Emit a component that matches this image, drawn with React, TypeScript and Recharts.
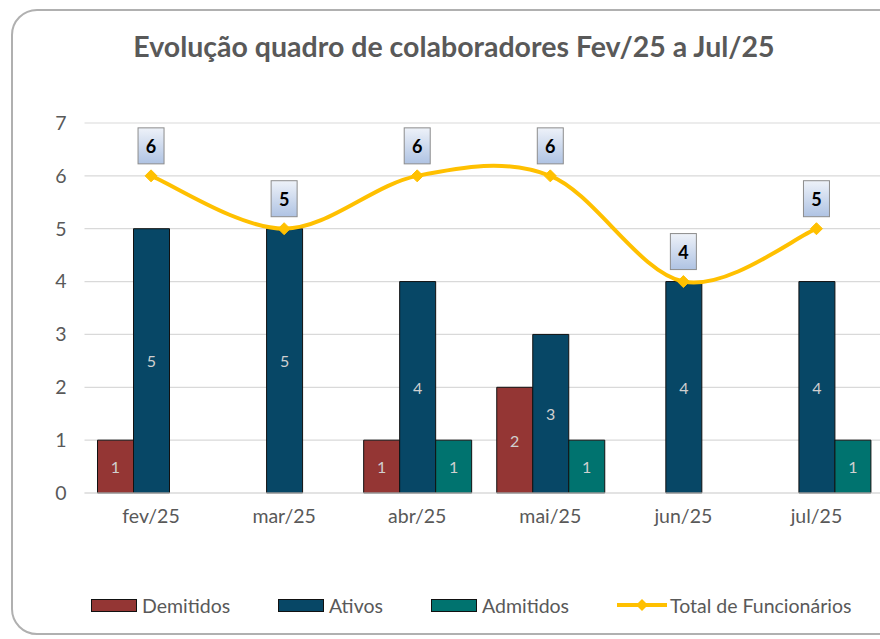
import React from "react";
import { ComposedChart, Bar, Line, XAxis, YAxis, CartesianGrid, LabelList } from "recharts";

const categories = ["fev/25", "mar/25", "abr/25", "mai/25", "jun/25", "jul/25"];
const demitidos = [1, null, 1, 2, null, null];
const ativos = [5, 5, 4, 3, 4, 4];
const admitidos = [null, null, 1, 1, null, 1];
const totalFuncionarios = [6, 5, 6, 6, 4, 5];
const yTicks = [0, 1, 2, 3, 4, 5, 6, 7];

const data = categories.map((c, i) => ({
  name: c,
  Demitidos: demitidos[i],
  Ativos: ativos[i],
  Admitidos: admitidos[i],
  Total: totalFuncionarios[i],
}));

const FONT = "Lato, 'Open Sans', sans-serif";
const GREY = "#595959";
const C_DEM = "#943634";
const C_ATI = "#074766";
const C_ADM = "#00736F";
const C_TOT = "#FFC000";

// Excel-like smooth line (Catmull-Rom as cubic Bezier)
const excelSmooth: any = (context: any) => {
  let pts: number[][] = [];
  return {
    areaStart() {},
    areaEnd() {},
    lineStart() {
      pts = [];
    },
    point(x: number, y: number) {
      pts.push([+x, +y]);
    },
    lineEnd() {
      if (!pts.length) return;
      context.moveTo(pts[0][0], pts[0][1]);
      for (let i = 0; i < pts.length - 1; i++) {
        const p0 = pts[i - 1] || pts[i];
        const p1 = pts[i];
        const p2 = pts[i + 1];
        const p3 = pts[i + 2] || p2;
        context.bezierCurveTo(
          p1[0] + (p2[0] - p0[0]) / 6,
          p1[1] + (p2[1] - p0[1]) / 6,
          p2[0] - (p3[0] - p1[0]) / 6,
          p2[1] - (p3[1] - p1[1]) / 6,
          p2[0],
          p2[1]
        );
      }
    },
  };
};

const Diamond = (props: any) => {
  const { cx, cy } = props;
  if (cx == null || cy == null) return null;
  const r = 6;
  return (
    <polygon
      points={`${cx},${cy - r} ${cx + r},${cy} ${cx},${cy + r} ${cx - r},${cy}`}
      fill={C_TOT}
      stroke={C_TOT}
    />
  );
};

const BoxLabel = (props: any) => {
  const { x, y, value } = props;
  if (value == null) return null;
  const w = 26;
  const h = 36;
  return (
    <g>
      <rect x={x - w / 2} y={y - 48} width={w} height={h} fill="url(#boxGrad)" stroke="#8c8c8c" strokeWidth={1} />
      <text
        x={x}
        y={y - 30}
        textAnchor="middle"
        dominantBaseline="central"
        fontFamily={FONT}
        fontWeight={700}
        fontSize={18}
        fill="#000"
      >
        {value}
      </text>
    </g>
  );
};

const barLabel = (props: any) => {
  const { x, y, width, height, value } = props;
  if (value == null) return null;
  return (
    <text
      x={x + width / 2}
      y={y + height / 2}
      textAnchor="middle"
      dominantBaseline="central"
      fontFamily={FONT}
      fontSize={16}
      fill="#d0d0d0"
    >
      {value}
    </text>
  );
};

const legendItems = [
  { label: "Demitidos", color: C_DEM, type: "bar", left: 91 },
  { label: "Ativos", color: C_ATI, type: "bar", left: 278 },
  { label: "Admitidos", color: C_ADM, type: "bar", left: 431 },
  { label: "Total de Funcionários", color: C_TOT, type: "line", left: 617 },
];

export default function App() {
  return (
    <div style={{ position: "absolute", left: 0, top: 0, width: 880, height: 639, overflow: "hidden", background: "#fff" }}>
      <div
        style={{
          position: "absolute",
          left: 11,
          top: 9,
          width: 920,
          height: 626,
          border: "2px solid #b0b0b0",
          borderRadius: 26,
          boxSizing: "border-box",
        }}
      />
      <div
        style={{
          position: "absolute",
          left: 0,
          width: 908,
          top: 28,
          textAlign: "center",
          fontFamily: FONT,
          fontWeight: 700,
          fontSize: 28.5,
          lineHeight: "36px",
          color: GREY,
          whiteSpace: "nowrap",
        }}
      >
        Evolução quadro de colaboradores Fev/25 a Jul/25
      </div>
      <div style={{ position: "absolute", left: 0, top: 0 }}>
        <ComposedChart
          width={883}
          height={639}
          data={data}
          margin={{ top: 123, right: 0, left: 0, bottom: 106 }}
          barGap={0}
          barSize={36}
        >
          <defs>
            <linearGradient id="boxGrad" x1="0" y1="0" x2="0" y2="1">
              <stop offset="0%" stopColor="#eef2f9" />
              <stop offset="100%" stopColor="#afc3e3" />
            </linearGradient>
          </defs>
          <CartesianGrid vertical={false} stroke="#d9d9d9" strokeWidth={1.2} />
          <XAxis
            dataKey="name"
            height={40}
            tickLine={false}
            axisLine={{ stroke: "#d9d9d9", strokeWidth: 1.2 }}
            tickMargin={10}
            tick={{ fill: GREY, fontSize: 19.5, fontFamily: FONT }}
          />
          <YAxis
            width={84.5}
            domain={[0, 7]}
            ticks={yTicks}
            interval={0}
            axisLine={false}
            tickLine={false}
            tickMargin={12}
            tick={{ fill: GREY, fontSize: 19.5, fontFamily: FONT }}
          />
          <Bar dataKey="Demitidos" fill={C_DEM} stroke="#111" strokeWidth={1} isAnimationActive={false}>
            <LabelList dataKey="Demitidos" content={barLabel} />
          </Bar>
          <Bar dataKey="Ativos" fill={C_ATI} stroke="#111" strokeWidth={1} isAnimationActive={false}>
            <LabelList dataKey="Ativos" content={barLabel} />
          </Bar>
          <Bar dataKey="Admitidos" fill={C_ADM} stroke="#111" strokeWidth={1} isAnimationActive={false}>
            <LabelList dataKey="Admitidos" content={barLabel} />
          </Bar>
          <Line
            dataKey="Total"
            type={excelSmooth}
            stroke={C_TOT}
            strokeWidth={4}
            dot={<Diamond />}
            activeDot={false}
            isAnimationActive={false}
          >
            <LabelList dataKey="Total" content={<BoxLabel />} />
          </Line>
        </ComposedChart>
      </div>
      {legendItems.map((it) => (
        <div
          key={it.label}
          style={{
            position: "absolute",
            left: it.left,
            top: 593,
            height: 24,
            display: "flex",
            alignItems: "center",
            fontFamily: FONT,
            fontSize: 19.5,
            color: GREY,
            whiteSpace: "nowrap",
          }}
        >
          {it.type === "bar" ? (
            <div
              style={{
                width: 46,
                height: 13,
                background: it.color,
                border: "1px solid #111",
                boxSizing: "border-box",
                marginRight: 5,
              }}
            />
          ) : (
            <svg width={50} height={16} style={{ marginRight: 3 }}>
              <line x1={0} y1={8} x2={50} y2={8} stroke={it.color} strokeWidth={4} />
              <polygon points="25,2 31,8 25,14 19,8" fill={it.color} />
            </svg>
          )}
          <span>{it.label}</span>
        </div>
      ))}
    </div>
  );
}
